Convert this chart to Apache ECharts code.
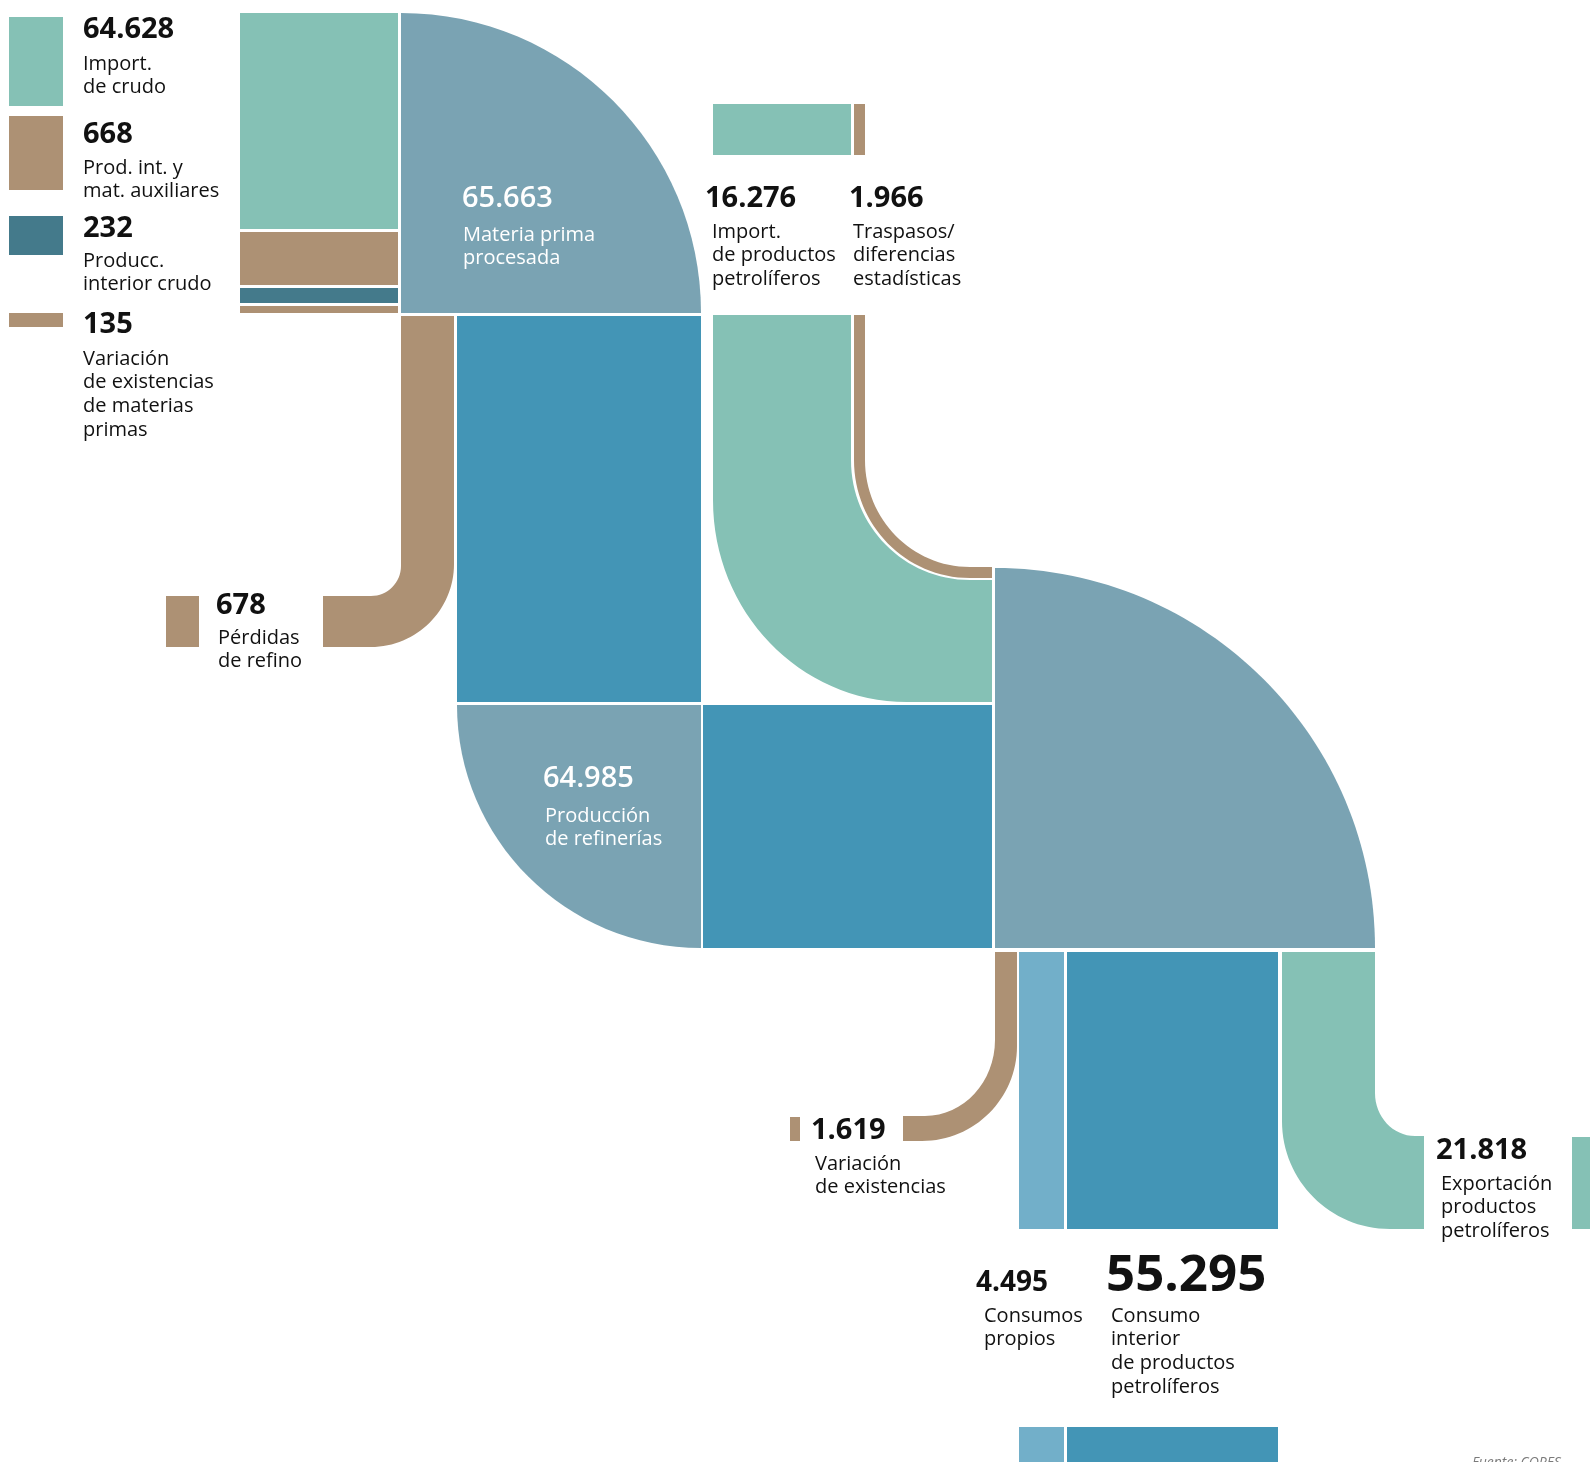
<!DOCTYPE html>
<html><head><meta charset="utf-8">
<script src="https://cdn.jsdelivr.net/npm/echarts@6/dist/echarts.min.js"></script>
<style>html,body{margin:0;padding:0;background:#fff}#c{width:1590px;height:1462px}</style>
</head><body><div id="c"></div>
<script>
// ---------- DATA ----------
const categories = [
  'Import.\nde crudo',
  'Prod. int. y\nmat. auxiliares',
  'Producc.\ninterior crudo',
  'Variación\nde existencias\nde materias\nprimas',
  'Materia prima\nprocesada',
  'Import.\nde productos\npetrolíferos',
  'Traspasos/\ndiferencias\nestadísticas',
  'Pérdidas\nde refino',
  'Producción\nde refinerías',
  'Variación\nde existencias',
  'Consumos\npropios',
  'Consumo\ninterior\nde productos\npetrolíferos',
  'Exportación\nproductos\npetrolíferos'
];
const values = [64628, 668, 232, 135, 65663, 16276, 1966, 678, 64985, 1619, 4495, 55295, 21818];
const sourceNote = 'Fuente: CORES';

// ---------- STYLE ----------
const COL = {teal:'#85C1B5', brown:'#AD9174', dark:'#447A8B', slate:'#7AA3B3', blue:'#4395B6', light:'#72AFC9'};
const FONT = '"Open Sans", "Noto Sans", sans-serif';

// ---------- LAYOUT (axis units of a hidden 1:1 cartesian grid) ----------
const shapeLayout = [
  {v:0, c:'teal',  rect:[240,13,398,229]},
  {v:1, c:'brown', rect:[240,232,398,285]},
  {v:2, c:'dark',  rect:[240,288,398,303]},
  {v:3, c:'brown', rect:[240,306,398,313]},
  {v:0, c:'teal',  rect:[9,17,63,106]},
  {v:1, c:'brown', rect:[9,116,63,190]},
  {v:2, c:'dark',  rect:[9,216,63,255]},
  {v:3, c:'brown', rect:[9,313,63,327]},
  {v:4, c:'slate', path:[['M',401,313],['L',401,13],['A',401,313,701,313],['Z']]},
  {v:5, c:'teal',  rect:[713,104,851,155]},
  {v:6, c:'brown', rect:[854,104,865,155]},
  {v:7, c:'brown', path:[['M',401,316],['L',454,316],['L',454,564],['A',371,564,371,647],['L',323,647],['L',323,596],['L',371,596],['A',371,566,401,566],['Z']]},
  {v:7, c:'brown', rect:[166,596,199,647]},
  {v:8, c:'blue',  rect:[457,316,701,702]},
  {v:5, c:'teal',  path:[['M',713,315],['L',851,315],['L',851,460],['A',970,460,970,580],['L',992,580],['L',992,702],['L',907,702],['A',907,500,713,500],['Z']]},
  {v:6, c:'brown', path:[['M',854,315],['L',865,315],['L',865,460],['A',970,460,970,567],['L',992,567],['L',992,578],['L',970,578],['A',970,460,854,460],['Z']]},
  {v:8, c:'slate', path:[['M',701,705],['L',457,705],['A',701,705,701,948],['Z']]},
  {v:8, c:'blue',  rect:[703,705,992,948]},
  {v:11, c:'slate', path:[['M',995,948],['L',995,568],['A',995,948,1375,948],['Z']]},
  {v:9, c:'brown', path:[['M',995,952],['L',1017,952],['L',1017,1046],['A',922,1046,922,1141],['L',903,1141],['L',903,1116],['L',925,1116],['A',925,1040,995,1040],['Z']]},
  {v:9, c:'brown', rect:[790,1117,800,1141]},
  {v:10, c:'light', rect:[1019,952,1064,1229]},
  {v:11, c:'blue',  rect:[1067,952,1278,1229]},
  {v:10, c:'light', rect:[1019,1427,1064,1470]},
  {v:11, c:'blue',  rect:[1067,1427,1278,1470]},
  {v:12, c:'teal', path:[['M',1282,952],['L',1375,952],['L',1375,1093],['A',1415,1093,1415,1136],['L',1424,1136],['L',1424,1229],['L',1390,1229],['A',1390,1121,1282,1121],['Z']]},
  {v:12, c:'teal', rect:[1572,1137,1600,1229]}
];

// label anchors: number baseline (nx, nb), description first baseline (dx, db)
const labelLayout = [
  {nx:83, nb:38, dx:83, db:71},
  {nx:83, nb:143, dx:83, db:175},
  {nx:83, nb:237, dx:83, db:268},
  {nx:83, nb:333, dx:83, db:366},
  {nx:462, nb:207, dx:463, db:242, white:true},
  {nx:705, nb:207, dx:712, db:239},
  {nx:849, nb:207, dx:853, db:239},
  {nx:216, nb:614, dx:218, db:645},
  {nx:543, nb:787, dx:545, db:823, white:true},
  {nx:811, nb:1139, dx:815, db:1171},
  {nx:976, nb:1291, dx:984, db:1323, ns:28},
  {nx:1106, nb:1291, dx:1111, db:1323, ns:51},
  {nx:1436, nb:1159, dx:1441, db:1191}
];
const noteLayout = {x:1472, b:1467};

const K = 0.5523;
const fmt = n => String(n).replace(/\B(?=(\d{3})+(?!\d))/g, '.');

function renderShape(params, api) {
  const s = shapeLayout[params.dataIndex];
  const pt = (x, y) => api.coord([x, y]);
  if (s.rect) {
    const a = pt(s.rect[0], s.rect[1]), b = pt(s.rect[2], s.rect[3]);
    return {type:'rect', shape:{x:Math.min(a[0],b[0]), y:Math.min(a[1],b[1]), width:Math.abs(b[0]-a[0]), height:Math.abs(b[1]-a[1])}, style:{fill:COL[s.c]}};
  }
  let d = '', cur = null;
  for (const seg of s.path) {
    if (seg[0] === 'M' || seg[0] === 'L') {
      cur = [seg[1], seg[2]]; const p = pt(cur[0], cur[1]);
      d += seg[0] + p[0].toFixed(2) + ' ' + p[1].toFixed(2) + ' ';
    } else if (seg[0] === 'A') {
      const cx = seg[1], cy = seg[2], bx = seg[3], by = seg[4];
      const ux = cur[0]-cx, uy = cur[1]-cy, vx = bx-cx, vy = by-cy;
      const c1 = pt(cur[0]+K*vx, cur[1]+K*vy), c2 = pt(bx+K*ux, by+K*uy), b = pt(bx, by);
      d += 'C' + [c1[0],c1[1],c2[0],c2[1],b[0],b[1]].map(v=>v.toFixed(2)).join(' ') + ' ';
      cur = [bx, by];
    } else if (seg[0] === 'Z') d += 'Z';
  }
  return {type:'path', shape:{pathData:d}, style:{fill:COL[s.c]}};
}

function renderLabel(params, api) {
  const i = params.dataIndex, L = labelLayout[i];
  const ns = L.ns || 29, fs = 20, lh = 23.7;
  const fill = L.white ? '#ffffff' : '#111111';
  const n = api.coord([L.nx, L.nb - 0.28*ns]);
  const dsc = api.coord([L.dx, L.db - 0.36*fs - lh/2]);
  return {type:'group', children:[
    {type:'text', style:{text:fmt(values[i]), x:n[0], y:n[1], fill, fontSize:ns, fontFamily:FONT, fontWeight:L.white?'600':'bold', align:'left', verticalAlign:'middle'}},
    {type:'text', style:{text:categories[i], x:dsc[0], y:dsc[1], fill, fontSize:fs, fontFamily:FONT, lineHeight:lh, align:'left', verticalAlign:'top'}}
  ]};
}

function renderNote(params, api) {
  const p = api.coord([noteLayout.x, noteLayout.b - 0.28*14]);
  return {type:'text', style:{text:sourceNote, x:p[0], y:p[1], fill:'#7a7a7a', fontSize:14, fontStyle:'italic', fontFamily:FONT, align:'left', verticalAlign:'middle'}};
}

const chart = echarts.init(document.getElementById('c'), null, {renderer:'canvas'});
chart.setOption({
  animation:false,
  backgroundColor:'#ffffff',
  grid:{left:0, right:0, top:0, bottom:0},
  xAxis:{type:'value', min:0, max:1590, show:false},
  yAxis:{type:'value', min:0, max:1462, inverse:true, show:false},
  series:[
    {type:'custom', silent:true, renderItem:renderShape, data:shapeLayout.map((s,i)=>({name:categories[s.v].replace(/\n/g,' '), value:[i, values[s.v]]}))},
    {type:'custom', silent:true, renderItem:renderLabel, data:values.map((v,i)=>({name:categories[i].replace(/\n/g,' '), value:[i, v]}))},
    {type:'custom', silent:true, renderItem:renderNote, data:[[0,0]]}
  ]
});
</script></body></html>
